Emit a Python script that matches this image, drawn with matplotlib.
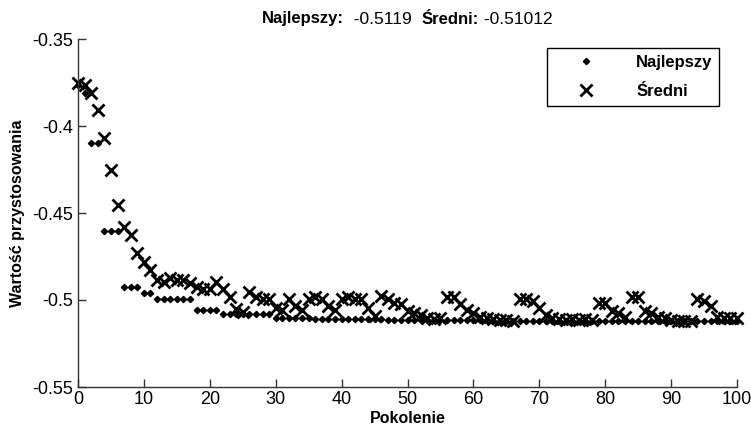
import matplotlib
matplotlib.use('Agg')
import matplotlib.pyplot as plt
from matplotlib import font_manager as fm

# generations 0..100
pokolenie = list(range(101))

najlepszy = [
    -0.3765, -0.381, -0.410, -0.410, -0.4605, -0.4605, -0.4605, -0.4925, -0.4925, -0.4925,
    -0.4958, -0.4958, -0.4997, -0.4997, -0.4997, -0.4997, -0.4997, -0.4997, -0.5058, -0.5058,
    -0.5058, -0.5058, -0.5083, -0.5083, -0.5083, -0.5083, -0.5083, -0.5083, -0.5083, -0.5083,
    -0.5103, -0.5103, -0.5103, -0.5103, -0.5103, -0.5103, -0.5110, -0.5110, -0.5110, -0.5110,
    -0.5110, -0.5110, -0.5110, -0.5110, -0.5110, -0.5110, -0.5110, -0.5115, -0.5115, -0.5115,
    -0.5115, -0.5115, -0.5115, -0.5115, -0.5115, -0.5115, -0.5115, -0.5115, -0.5115, -0.5115,
    -0.5115, -0.5115, -0.5115, -0.5119, -0.5119, -0.5119, -0.5119, -0.5119, -0.5119, -0.5119,
    -0.5119, -0.5119, -0.5119, -0.5119, -0.5119, -0.5119, -0.5119, -0.5119, -0.5119, -0.5119,
    -0.5119, -0.5119, -0.5119, -0.5119, -0.5119, -0.5119, -0.5119, -0.5119, -0.5119, -0.5119,
    -0.5119, -0.5119, -0.5119, -0.5119, -0.5119, -0.5119, -0.5119, -0.5119, -0.5119, -0.5119,
    -0.5119,
]

sredni = [
    -0.3755, -0.3765, -0.381, -0.391, -0.407, -0.4255, -0.4455, -0.458, -0.4625, -0.473,
    -0.478, -0.483, -0.4885, -0.4895, -0.4875, -0.4885, -0.4885, -0.4905, -0.4925, -0.4935,
    -0.4935, -0.4895, -0.4935, -0.498, -0.505, -0.507, -0.4955, -0.4985, -0.4995, -0.4995,
    -0.5045, -0.5055, -0.4995, -0.5035, -0.5055, -0.4995, -0.4985, -0.4995, -0.5035, -0.5055,
    -0.4995, -0.4985, -0.4995, -0.4995, -0.5045, -0.509, -0.4975, -0.4995, -0.5015, -0.5025,
    -0.5065, -0.5075, -0.5085, -0.5105, -0.511, -0.5105, -0.4985, -0.4985, -0.5025, -0.5055,
    -0.5075, -0.5095, -0.5105, -0.511, -0.5115, -0.5115, -0.5118, -0.4995, -0.4995, -0.5005,
    -0.5045, -0.5085, -0.5105, -0.511, -0.5115, -0.511, -0.5115, -0.511, -0.5115, -0.5015,
    -0.5015, -0.5065, -0.5075, -0.5095, -0.4985, -0.4985, -0.5065, -0.5075, -0.5095, -0.5105,
    -0.5115, -0.5118, -0.5118, -0.5118, -0.4995, -0.5005, -0.5035, -0.5095, -0.5105, -0.5105,
    -0.51012,
]

xticks = [0, 10, 20, 30, 40, 50, 60, 70, 80, 90, 100]
yticks = [-0.55, -0.5, -0.45, -0.4, -0.35]
ytick_labels = ['-0.55', '-0.5', '-0.45', '-0.4', '-0.35']

names = {f.name for f in fm.fontManager.ttflist}
font = 'Liberation Sans Narrow' if 'Liberation Sans Narrow' in names else 'Liberation Sans'
plt.rcParams['font.family'] = [font, 'DejaVu Sans']

W, H = 751, 443
fig = plt.figure(figsize=(W / 100, H / 100), dpi=100)
ax = fig.add_axes([78 / W, 1 - 387 / H, 659 / W, 348 / H])

ax.plot(pokolenie, najlepszy, linestyle='none', marker='D', markersize=3.2,
        color='black', label='Najlepszy', clip_on=False)
ax.plot(pokolenie, sredni, linestyle='none', marker='x', markersize=9,
        markeredgewidth=2, color='black', label='Średni', clip_on=False)

ax.set_xlim(0, 100)
ax.set_ylim(-0.55, -0.35)
ax.set_xticks(xticks)
ax.set_xticklabels([str(t) for t in xticks])
ax.set_yticks(yticks)
ax.set_yticklabels(ytick_labels)
ax.tick_params(direction='in', length=6, width=1, labelsize=13, color='#333333')
ax.tick_params(axis='x', pad=3)
ax.spines['top'].set_visible(False)
ax.spines['right'].set_visible(False)
for s in ('left', 'bottom'):
    ax.spines[s].set_linewidth(1)
    ax.spines[s].set_color('#333333')

ax.set_xlabel('Pokolenie', fontsize=11.5, fontweight='bold', labelpad=2)
ax.set_ylabel('Wartość przystosowania', fontsize=11.5, fontweight='bold', labelpad=5)

# legend box at 547..719 x 48..104 px, wide handle so the marker sits inside
leg = ax.legend(loc='upper left', bbox_to_anchor=(547 / W, 1 - 48 / H),
                bbox_transform=fig.transFigure, fancybox=False, framealpha=1,
                edgecolor='black', handlelength=3.9, handletextpad=1.05,
                borderpad=0.4, labelspacing=0.85, borderaxespad=0,
                prop={'weight': 'bold', 'size': 12})
leg.get_frame().set_linewidth(1)

# title made of bold captions and plain numbers, centred over the axes
parts = [('Najlepszy:', 'bold'), ('  -0.5119  ', 'normal'),
         ('Średni:', 'bold'), (' -0.51012', 'normal')]
texts = []
prev = None
for s, w in parts:
    if prev is None:
        t = fig.text(0, 1 - 19 / H, s, fontsize=12, fontweight=w, va='center')
    else:
        t = ax.annotate(s, xy=(1, 0), xycoords=prev, va='bottom', ha='left',
                        fontsize=12.5 if w == 'normal' else 12, fontweight=w,
                        annotation_clip=False)
    texts.append(t)
    prev = t
fig.canvas.draw()
r = fig.canvas.get_renderer()
x0 = texts[0].get_window_extent(r).x0
x1 = texts[-1].get_window_extent(r).x1
cx = (ax.get_window_extent(r).x0 + ax.get_window_extent(r).x1) / 2
texts[0].set_x((cx - (x1 - x0) / 2) / fig.bbox.width)

fig.savefig('out.png', dpi=100)
